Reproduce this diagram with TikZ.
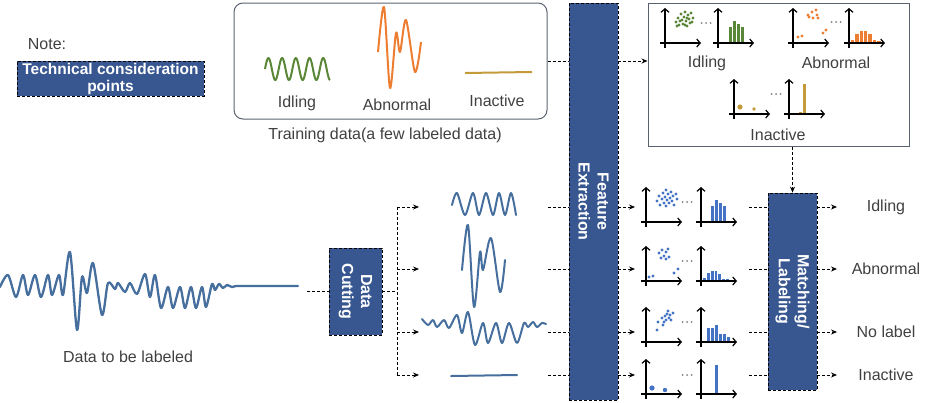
\documentclass[tikz,border=0pt]{standalone}
\usepackage{fontspec}
\setmainfont{Liberation Sans}
\usetikzlibrary{positioning,calc,arrows.meta}

\definecolor{boxblue}{RGB}{56,87,145}
\definecolor{sigblue}{RGB}{71,111,158}
\definecolor{ptblue}{RGB}{68,114,196}
\definecolor{idlegreen}{RGB}{90,135,55}
\definecolor{abnorange}{RGB}{237,125,49}
\definecolor{inactgold}{RGB}{196,154,58}
\definecolor{txtgray}{RGB}{64,64,64}
\definecolor{framegray}{RGB}{90,98,112}

\tikzset{
  procbox/.style={draw=black,densely dashed,fill=boxblue,line width=0.8pt,inner sep=0pt},
  proctext/.style={text=white,font=\fontsize{16}{19}\selectfont\bfseries,align=center,rotate=-90},
  lbl/.style={text=txtgray,font=\fontsize{16}{19}\selectfont},
  link/.style={densely dashed,line width=0.8pt},
  flow/.style={link,-{Stealth[length=6pt,width=5pt]}},
  axis/.style={line width=1.2pt,-{Straight Barb[length=3.5pt,width=8pt]}},
  sig/.style={sigblue,line width=2pt,line join=round,line cap=round},
}

% axes of a small plot, origin at (#1,#2)
\newcommand{\plotaxes}[2]{%
  \draw[axis] (#1,#2+5) -- (#1,#2-35);
  \draw[axis] (#1-5,#2) -- (#1+36,#2);}
% histogram bars: colour, left x, base y, bar width, bar tops
\newcommand{\histbars}[5]{%
  \foreach \t [count=\i] in {#5}
    \filldraw[fill=#1,draw=white,line width=0.3pt] ({#2+(\i-1)*#4},#3) rectangle ({#2+\i*#4},\t);}
% three small dots centred at (#1,#2)
\newcommand{\moredots}[2]{%
  \foreach \d in {-4.5,0,4.5} \fill[black!50] ({#1+\d},#2) circle (1pt);}

\begin{document}
\begin{tikzpicture}[x=1pt,y=-1pt]
\useasboundingbox (0,0) rectangle (936,402);

% note
\node[lbl] (note) at (47,44) {Note:};
\node[procbox,text=white,font=\fontsize{15.5}{17}\selectfont\bfseries,align=center,
  minimum width=187pt,minimum height=35pt] (techbox) at (110.5,78.5) {Technical consideration\\points};

% training data
\node[draw=framegray,rounded corners=9pt,line width=1pt,minimum width=313pt,minimum height=116pt] (train) at (390.5,61) {};
\draw[idlegreen,line width=2pt,line join=round]
  plot[domain=0:65,samples=120,smooth] ({265+\x},{69-11*sin(\x/13.7*360)});
\draw[abnorange,line width=2pt,line join=round]
  plot[smooth] coordinates {(378,52) (384,7) (390,88) (396,33) (400,52) (406,20) (415,72) (421,42)};
\draw[inactgold,line width=2pt] (465,73) -- (532,72);
\node[lbl] (tidle) at (297,103) {Idling};
\node[lbl] (tabn) at (397,105) {Abnormal};
\node[lbl] (tinact) at (497,101) {Inactive};
\node[lbl] (traincap) at (385,135) {Training data(a few labeled data)};

% reference features
\node[draw=framegray,line width=1pt,minimum width=261pt,minimum height=143pt] (refbox) at (778.5,74.5) {};
\histbars{idlegreen}{728}{43}{4}{26,20,23,26}
\histbars{abnorange}{850}{43}{4.4}{39,33,30,30,33,39,40}
\histbars{inactgold}{798}{114}{4}{111,83}
\foreach \p in {(676,22),(678,18),(679,25),(681,14),(682,20),(683,24),(684,17),(685,12),(686,21),(687,26),
  (688,15),(689,19),(690,23),(691,13),(693,18),(680,21),(685,25),(687,18),(677,26),(692,22)}
  \fill[idlegreen] \p circle (1.7pt);
\foreach \p in {(808,15),(812,12),(816,10),(817,15),(813,18),(818,18),(809,17),(798,37),(802,36),(823,33),(826,30)}
  \fill[abnorange] \p circle (1.7pt);
\fill[inactgold] (740,107) circle (2.6pt);
\fill[inactgold] (754,109) circle (1.9pt);
\plotaxes{665}{43} \plotaxes{718}{43}
\plotaxes{793}{43} \plotaxes{849}{43}
\plotaxes{734}{114} \plotaxes{789}{114}
\moredots{706}{23} \moredots{836}{22} \moredots{776}{94}
\node[lbl] (ridle) at (707,63) {Idling};
\node[lbl] (rabn) at (836,63) {Abnormal};
\node[lbl] (rinact) at (778,135) {Inactive};

% data to be labeled
\draw[sig,line width=2.3pt] plot[smooth] coordinates {(0,287) (8,275) (16,297) (23,275) (28,295) (35,275) (41,297)
  (48,275) (52,295) (59,275) (63,295) (70,252) (77,330) (82,277) (87,293) (93,263) (102,315) (108,283)
  (115,289) (118,283) (125,292) (130,283) (137,294) (145,274) (150,297) (155,275) (161,308) (168,287)
  (173,308) (180,287) (185,308) (191,287) (196,308) (202,287) (206,307) (212,284) (215,290) (219,284)
  (223,288) (227,285) (232,287) (237,286) (260,286) (298,286)};
\coordinate (sigend) at (307,291);
\node[lbl] (datacap) at (128,357) {Data to be labeled};

% cut segments
\draw[sig] plot[smooth] coordinates {(452,205) (457,193) (465,215) (473,193) (479,215) (486,193) (493,215)
  (499,193) (505,215) (511,193) (516,215)};
\draw[sig] plot[smooth] coordinates {(462,270) (468,225) (474,307) (480,252) (483,270) (491,238) (500,292) (505,260)};
\draw[sig] plot[smooth] coordinates {(422,319) (428,325) (433,320) (437,327) (444,320) (449,328) (457,315)
  (462,333) (468,312) (475,345) (483,323) (488,343) (496,323) (502,343) (509,323) (517,343) (524,323)
  (528,327) (533,322) (537,327) (542,323) (546,324)};
\draw[sig] (451,376) -- (517,375);

% process blocks
\node[procbox,minimum width=53pt,minimum height=87pt] (datacut) at (355.5,291.5) {};
\node[proctext] (cuttext) at (datacut.center) {Data\\Cutting};
\node[procbox,minimum width=49pt,minimum height=397pt] (featext) at (593.5,201.5) {};
\node[proctext] (feattext) at (featext.center) {Feature\\Extraction};
\node[procbox,minimum width=49pt,minimum height=197pt] (match) at (792.5,291.5) {};
\node[proctext] (matchtext) at (match.center) {Matching/\\Labeling};

% extracted features
\histbars{ptblue}{710}{222}{4}{205,199,202,205}
\histbars{ptblue}{702}{281}{3.9}{277,272,270,270,273,278,278}
\histbars{ptblue}{706}{342}{4}{327,327,324,333,333,336}
\histbars{ptblue}{710}{394}{4}{392,364}
\foreach \p in {(657,201),(659,196),(660,205),(662,199),(663,193),(664,203),(665,197),(666,190),(666,206),(667,200),
  (668,194),(669,203),(670,198),(671,192),(672,201),(673,196),(674,205),(676,194),(677,199),
  (659,253),(662,250),(664,256),(666,252),(668,249),(669,257),(661,258),(666,259),(649,277),(653,276),(674,273),(678,269),
  (657,330),(658,322),(662,318),(663,325),(665,316),(666,320),(667,314),(669,318),(670,315),(671,320),(673,313),(664,322),(668,311)}
  \fill[ptblue] \p circle (1.7pt);
\fill[ptblue] (652,388) circle (2.6pt);
\fill[ptblue] (665,390) circle (2.2pt);
\foreach \y in {222,281,342,394} {\plotaxes{646}{\y} \plotaxes{701}{\y}}
\foreach \y in {202,261,322,375} {\moredots{687}{\y}}

% outputs
\node[lbl] (outidle) at (886,207) {Idling};
\node[lbl] (outabn) at (886,269) {Abnormal};
\node[lbl] (outnone) at (886,332) {No label};
\node[lbl] (outinact) at (886,375) {Inactive};

% connectors
\coordinate (split) at (397,291);
\draw[link] (sigend) -- (datacut.west |- sigend);
\draw[link] (datacut.east |- split) -- (split);
\draw[link] (397,207) -- (397,375);
\foreach \y [count=\i] in {207,269,332,375} {
  \coordinate (seg\i) at (419,\y);
  \coordinate (segout\i) at (548,\y);
  \coordinate (feat\i) at (635,\y);
  \coordinate (featend\i) at (749,\y);
  \coordinate (res\i) at (837,\y);
  \draw[flow] (split |- seg\i) -- (seg\i);
  \draw[link] (segout\i) -- (featext.west |- segout\i);
  \draw[flow] (featext.east |- feat\i) -- (feat\i);
  \draw[link] (featend\i) -- (match.west |- featend\i);
  \draw[flow] (match.east |- res\i) -- (res\i);
}
\draw[link] (train.east) -- (featext.west |- train.east);
\draw[flow] (featext.east |- train.east) -- (refbox.west |- train.east);
\draw[flow] (refbox.south -| match.north) -- (match.north);
\end{tikzpicture}
\end{document}
